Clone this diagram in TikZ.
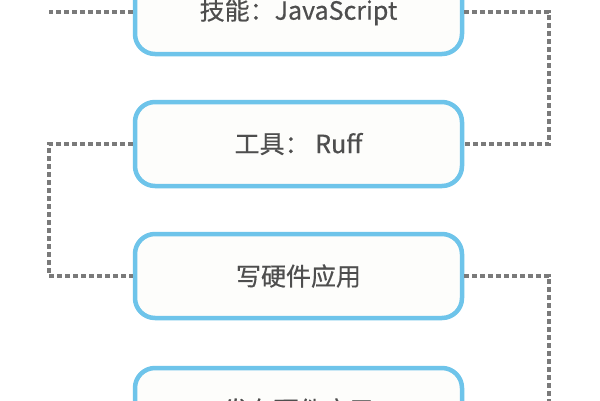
\documentclass[tikz,border=0pt]{standalone}
\usepackage{fontspec}
\newfontfamily\cjk[FakeBold=0.5]{Noto Sans CJK SC}
\definecolor{boxblue}{HTML}{6EC4EA}
\definecolor{boxfill}{HTML}{FDFDFB}
\definecolor{txtgray}{HTML}{4E4E4E}
\definecolor{dashgray}{HTML}{7A7A7A}
\tikzset{
  stepbox/.style={draw=boxblue, line width=4.5pt, fill=boxfill, rounded corners=20pt,
    minimum width=327pt, minimum height=84pt, inner sep=0pt, text=txtgray,
    font=\cjk\fontsize{25}{30}\selectfont},
  link/.style={draw=dashgray, line width=4pt, dash pattern=on 5pt off 3pt}
}
\begin{document}
\begin{tikzpicture}[x=1pt,y=-1pt]
\useasboundingbox (0,0) rectangle (600,400);
\clip (0,0) rectangle (600,400);
\fill[white] (0,0) rectangle (600,400);
\node[stepbox] (b1) at (298.5,12) {\raisebox{-2.5pt}{技能：JavaScript}};
\node[stepbox] (b2) at (298.5,144) {\raisebox{-1pt}{工具： Ruff}};
\node[stepbox] (b3) at (298.5,276) {\raisebox{-1pt}{写硬件应用}};
\node[stepbox] (b4) at (298.5,410) {发布硬件应用};
\coordinate (s1) at (49,12);
\coordinate (s4) at (49,410);
\draw[link] (b1.west) -- (s1);
\draw[link] (b1.east) -- (549,12) |- (b2.east);
\draw[link] (b2.west) -- (49,144) |- (b3.west);
\draw[link] (b3.east) -- (549,276) |- (b4.east);
\draw[link] (b4.west) -- (s4);
\end{tikzpicture}
\end{document}
